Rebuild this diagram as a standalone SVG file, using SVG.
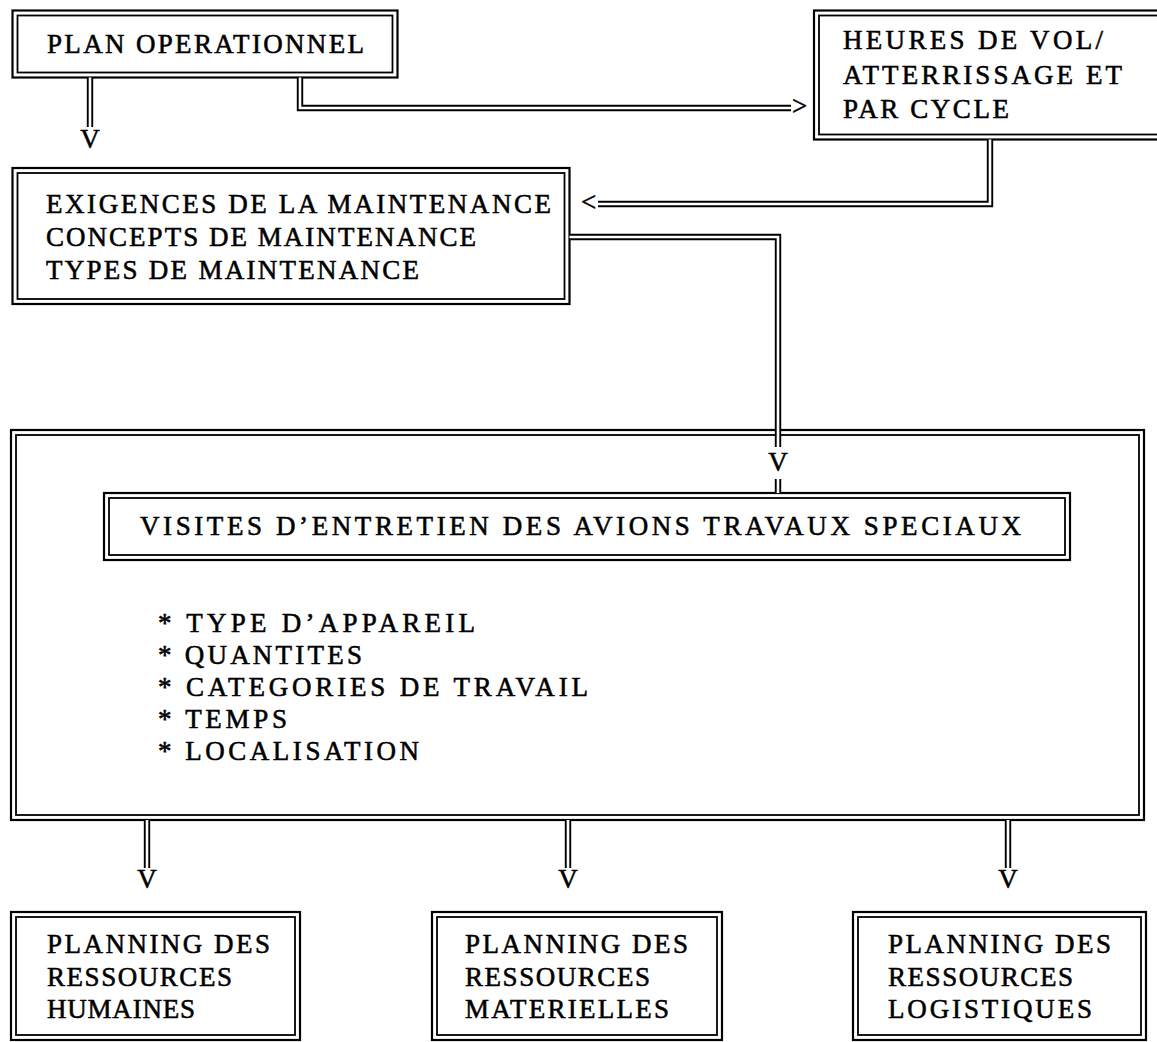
<svg xmlns="http://www.w3.org/2000/svg" width="1157" height="1042" viewBox="0 0 1157 1042">
  <style>
    .frame { fill: #fff; stroke: #000; stroke-width: 2.2; }
    .rule  { fill: none; stroke: #000; stroke-width: 1.8; }
    .lbl   { font-family: "Liberation Serif", "DejaVu Serif", serif; font-size: 27px; fill: #000; stroke: #000; stroke-width: 0.55; }
    .head  { font-family: "Liberation Serif", "DejaVu Serif", serif; font-size: 27px; fill: #000; stroke: #000; stroke-width: 0.55; }
    .wire-o { fill: none; stroke: #000; stroke-width: 6.4; stroke-linejoin: miter; }
    .wire-i { fill: none; stroke: #fff; stroke-width: 2.6; stroke-linejoin: miter; }
  </style>

  <rect width="1157" height="1042" fill="#fff"/>

  <!-- large frame holding the maintenance visits block -->
  <g id="visites-cadre">
    <rect class="frame" x="11" y="430" width="1133" height="390"/>
    <rect class="rule" x="16" y="435" width="1123" height="380"/>
    <text class="lbl" x="158" y="632" textLength="317" lengthAdjust="spacing">* TYPE D’APPAREIL</text>
    <text class="lbl" x="158" y="664" textLength="204" lengthAdjust="spacing">* QUANTITES</text>
    <text class="lbl" x="158" y="696" textLength="430" lengthAdjust="spacing">* CATEGORIES DE TRAVAIL</text>
    <text class="lbl" x="158" y="728" textLength="129" lengthAdjust="spacing">* TEMPS</text>
    <text class="lbl" x="158" y="760" textLength="261" lengthAdjust="spacing">* LOCALISATION</text>
  </g>

  <g id="visites">
    <rect class="frame" x="104" y="493" width="966" height="67"/>
    <rect class="rule" x="109" y="498" width="956" height="57"/>
    <text class="lbl" x="140" y="535" textLength="881" lengthAdjust="spacing">VISITES D’ENTRETIEN DES AVIONS TRAVAUX SPECIAUX</text>
  </g>

  <g id="plan-operationnel">
    <rect class="frame" x="12.5" y="10.5" width="385" height="67"/>
    <rect class="rule" x="17.5" y="15.5" width="375" height="57"/>
    <text class="lbl" x="47" y="53" textLength="317" lengthAdjust="spacing">PLAN OPERATIONNEL</text>
  </g>

  <g id="heures-de-vol">
    <rect class="frame" x="814" y="10.5" width="360" height="129"/>
    <rect class="rule" x="819" y="15.5" width="350" height="119"/>
    <text class="lbl" x="843" y="49" textLength="260" lengthAdjust="spacing">HEURES DE VOL/</text>
    <text class="lbl" x="843" y="83.5" textLength="279" lengthAdjust="spacing">ATTERRISSAGE ET</text>
    <text class="lbl" x="843" y="118" textLength="166" lengthAdjust="spacing">PAR CYCLE</text>
  </g>

  <g id="exigences">
    <rect class="frame" x="12.5" y="168" width="557" height="136"/>
    <rect class="rule" x="17.5" y="173" width="547" height="126"/>
    <text class="lbl" x="46" y="213" textLength="505" lengthAdjust="spacing">EXIGENCES DE LA MAINTENANCE</text>
    <text class="lbl" x="46" y="246" textLength="430" lengthAdjust="spacing">CONCEPTS DE MAINTENANCE</text>
    <text class="lbl" x="46" y="279" textLength="373" lengthAdjust="spacing">TYPES DE MAINTENANCE</text>
  </g>

  <g id="ressources-humaines">
    <rect class="frame" x="11" y="912" width="289" height="128"/>
    <rect class="rule" x="16" y="917" width="279" height="118"/>
    <text class="lbl" x="47" y="953" textLength="223" lengthAdjust="spacing">PLANNING DES</text>
    <text class="lbl" x="47" y="986" textLength="185" lengthAdjust="spacing">RESSOURCES</text>
    <text class="lbl" x="47" y="1018" textLength="148" lengthAdjust="spacing">HUMAINES</text>
  </g>

  <g id="ressources-materielles">
    <rect class="frame" x="432" y="912" width="290" height="128"/>
    <rect class="rule" x="437" y="917" width="280" height="118"/>
    <text class="lbl" x="465" y="953" textLength="223" lengthAdjust="spacing">PLANNING DES</text>
    <text class="lbl" x="465" y="986" textLength="185" lengthAdjust="spacing">RESSOURCES</text>
    <text class="lbl" x="465" y="1018" textLength="204" lengthAdjust="spacing">MATERIELLES</text>
  </g>

  <g id="ressources-logistiques">
    <rect class="frame" x="853" y="912" width="293" height="128"/>
    <rect class="rule" x="858" y="917" width="283" height="118"/>
    <text class="lbl" x="888" y="953" textLength="223" lengthAdjust="spacing">PLANNING DES</text>
    <text class="lbl" x="888" y="986" textLength="185" lengthAdjust="spacing">RESSOURCES</text>
    <text class="lbl" x="888" y="1018" textLength="204" lengthAdjust="spacing">LOGISTIQUES</text>
  </g>

  <!-- double-line connectors: black body with a white core, typed heads -->
  <g id="connecteurs">
    <g id="c-plan-exigences">
      <path class="wire-o" d="M90 77.5 V127"/>
      <path class="wire-i" d="M90 77.5 V127"/>
      <text class="head" x="90" y="148" text-anchor="middle">V</text>
    </g>
    <g id="c-plan-heures">
      <path class="wire-o" d="M300 77.5 V108 H791"/>
      <path class="wire-i" d="M300 77.5 V108 H791"/>
      <text class="head" x="792" y="115">&gt;</text>
    </g>
    <g id="c-heures-exigences">
      <path class="wire-o" d="M990 139.5 V204 H598"/>
      <path class="wire-i" d="M990 139.5 V204 H598"/>
      <text class="head" x="581" y="211">&lt;</text>
    </g>
    <g id="c-exigences-visites">
      <path class="wire-o" d="M569.5 237 H778 V447"/>
      <path class="wire-i" d="M569.5 237 H778 V447"/>
      <text class="head" x="778" y="471" text-anchor="middle">V</text>
      <path class="wire-o" d="M778 479 V493"/>
      <path class="wire-i" d="M778 479 V493"/>
    </g>
    <g id="c-visites-humaines">
      <path class="wire-o" d="M147 820 V868"/>
      <path class="wire-i" d="M147 820 V868"/>
      <text class="head" x="147" y="888" text-anchor="middle">V</text>
    </g>
    <g id="c-visites-materielles">
      <path class="wire-o" d="M568 820 V868"/>
      <path class="wire-i" d="M568 820 V868"/>
      <text class="head" x="568" y="888" text-anchor="middle">V</text>
    </g>
    <g id="c-visites-logistiques">
      <path class="wire-o" d="M1008 820 V868"/>
      <path class="wire-i" d="M1008 820 V868"/>
      <text class="head" x="1008" y="888" text-anchor="middle">V</text>
    </g>
  </g>
</svg>
